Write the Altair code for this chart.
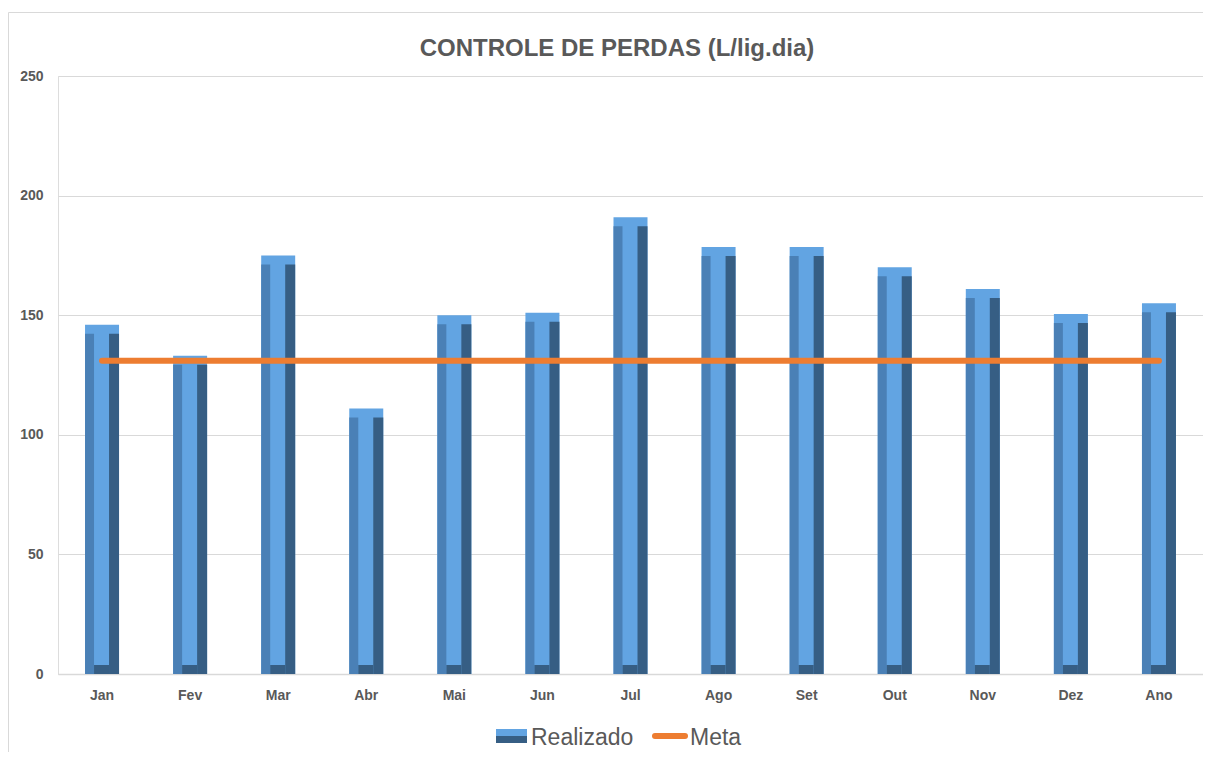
import altair as alt
import pandas as pd

months = ["Jan", "Fev", "Mar", "Abr", "Mai", "Jun", "Jul", "Ago", "Set", "Out", "Nov", "Dez", "Ano"]
realizado = [146, 133, 175, 111, 150, 151, 191, 178.5, 178.5, 170, 161, 150.5, 155]
meta = [131, 131, 131, 131, 131, 131, 131, 131, 131, 131, 131, 131, 131]
y_ticks = [0, 50, 100, 150, 200, 250]
title_text = "CONTROLE DE PERDAS (L/lig.dia)"
legend_labels = ["Realizado", "Meta"]

df = pd.DataFrame({"month": months, "realizado": realizado, "meta": meta})

W, H = 1145, 598
GREY = "#595959"
FONT = "Liberation Sans"

LIGHT = "#62a4e2"
MID = "#4a80b6"
DARK = "#365e84"

x_enc = alt.X("month:N", sort=months,
              scale=alt.Scale(paddingInner=0, paddingOuter=0),
              axis=alt.Axis(title=None, labelAngle=0, labelFont=FONT, labelFontWeight="bold",
                            labelFontSize=14, labelColor=GREY, ticks=False, domain=True,
                            domainColor="#d9d9d9", domainWidth=1.5, labelPadding=14, grid=False))
y_enc = alt.Y("realizado:Q", scale=alt.Scale(domain=[0, 250], nice=False, zero=True),
              axis=alt.Axis(title=None, values=y_ticks, labelFont=FONT, labelFontWeight="bold",
                            labelFontSize=14, labelColor=GREY, ticks=False, domain=False,
                            gridColor="#d9d9d9", gridWidth=1, labelPadding=15))

base = alt.Chart(df)

bar_full = base.mark_bar(width=34, color=LIGHT).encode(x=x_enc, y=y_enc, y2=alt.datum(0))
bar_left = base.mark_bar(width=9, xOffset=-12.5, yOffset=9, color=MID).encode(
    x=alt.X("month:N", sort=months), y="realizado:Q", y2=alt.datum(0))
bar_right = base.mark_bar(width=10, xOffset=12, yOffset=9, color=DARK).encode(
    x=alt.X("month:N", sort=months), y="realizado:Q", y2=alt.datum(0))
bar_bottom = base.mark_bar(width=15, xOffset=-0.5, yOffset=-9, color=DARK).encode(
    x=alt.X("month:N", sort=months), y=alt.datum(0), y2=alt.datum(0))

meta_line = base.mark_line(color="#ed7d31", strokeWidth=6, strokeCap="round").encode(
    x=alt.X("month:N", sort=months, bandPosition=0.5), y="meta:Q")

frame = alt.Chart(pd.DataFrame({"a": [0]})).mark_rect(
    fill=None, stroke="#d9d9d9", strokeWidth=1).encode(
    x=alt.value(-49.5), x2=alt.value(W + 49), y=alt.value(-63.5), y2=alt.value(H + 80))

title = alt.Chart(pd.DataFrame({"t": [title_text]})).mark_text(
    font=FONT, fontWeight="bold", fontSize=24, color=GREY, baseline="alphabetic", align="center"
).encode(text="t:N", x=alt.value(559), y=alt.value(-20))

leg_df = pd.DataFrame({"label": [legend_labels[0]]})
leg_top = alt.Chart(leg_df).mark_rect(color=LIGHT).encode(
    x=alt.value(438), x2=alt.value(469), y=alt.value(653), y2=alt.value(660))
leg_bot = alt.Chart(leg_df).mark_rect(color=DARK).encode(
    x=alt.value(438), x2=alt.value(469), y=alt.value(660), y2=alt.value(667))
leg_text1 = alt.Chart(leg_df).mark_text(font=FONT, fontSize=23, color=GREY, align="left",
                                        baseline="alphabetic").encode(
    text="label:N", x=alt.value(473), y=alt.value(669))
leg_df2 = pd.DataFrame({"label": [legend_labels[1]]})
leg_line = alt.Chart(leg_df2).mark_rule(color="#ed7d31", strokeWidth=6, strokeCap="round").encode(
    x=alt.value(597), x2=alt.value(627), y=alt.value(660))
leg_text2 = alt.Chart(leg_df2).mark_text(font=FONT, fontSize=23, color=GREY, align="left",
                                         baseline="alphabetic").encode(
    text="label:N", x=alt.value(632), y=alt.value(669))

chart = alt.layer(frame, bar_full, bar_left, bar_right, bar_bottom, meta_line, title,
                  leg_top, leg_bot, leg_text1, leg_line, leg_text2).properties(
    width=W, height=H,
    autosize=alt.AutoSizeParams(type="none"),
    padding={"left": 50, "top": 68, "right": 0, "bottom": 78},
).configure_view(stroke=None).configure(background="white")

chart.save("out.html", embed_options={"renderer": "svg", "actions": False})
